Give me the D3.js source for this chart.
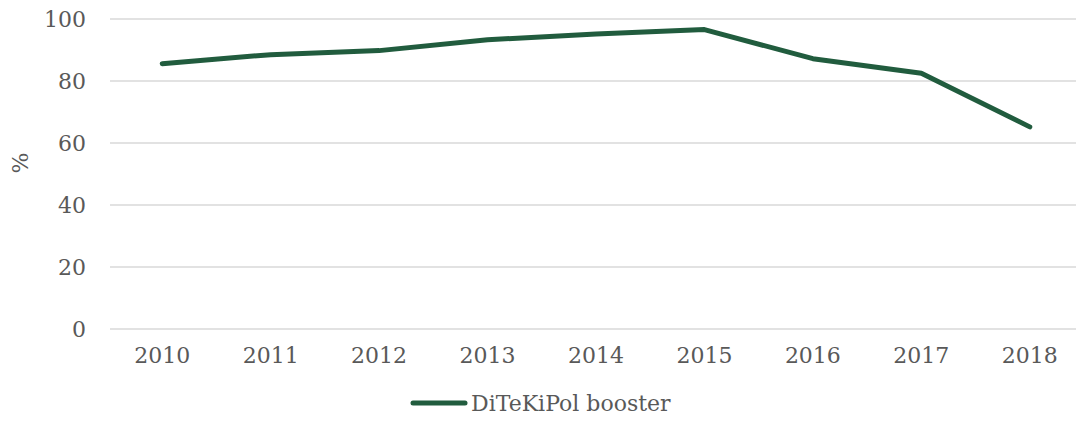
<!DOCTYPE html>
<html>
<head>
<meta charset="utf-8">
<script src="https://cdn.jsdelivr.net/npm/d3@7"></script>
<style>
  body { margin: 0; background: #fff; }
  text { font-family: "DejaVu Serif", serif; fill: #595959; }
</style>
</head>
<body>
<div id="chart"></div>
<script>
const years = ["2010", "2011", "2012", "2013", "2014", "2015", "2016", "2017", "2018"];
const booster = [85.6, 88.5, 89.8, 93.3, 95.2, 96.6, 87.2, 82.5, 65.2];
const yTicks = [0, 20, 40, 60, 80, 100];
const seriesName = "DiTeKiPol booster";

const width = 1076, height = 430;
const color = "#215c3e";

const svg = d3.select("#chart").append("svg")
  .attr("width", width)
  .attr("height", height);

const x = d3.scaleBand().domain(years).range([108, 1084]);
const y = d3.scaleLinear().domain([0, 100]).range([329, 19]);

// gridlines
svg.append("g")
  .selectAll("line")
  .data(yTicks)
  .join("line")
  .attr("x1", 110)
  .attr("x2", width)
  .attr("y1", d => y(d))
  .attr("y2", d => y(d))
  .attr("stroke", "#d9d9d9")
  .attr("stroke-width", 1.5);

// y labels
svg.append("g")
  .selectAll("text")
  .data(yTicks)
  .join("text")
  .attr("x", 86)
  .attr("y", d => y(d))
  .attr("dy", "0.35em")
  .attr("text-anchor", "end")
  .style("font-size", "22px")
  .text(d => d);

// x labels
svg.append("g")
  .selectAll("text")
  .data(years)
  .join("text")
  .attr("x", d => x(d) + x.bandwidth() / 2)
  .attr("y", 363)
  .attr("text-anchor", "middle")
  .style("font-size", "22px")
  .text(d => d);

// y title
svg.append("text")
  .attr("transform", "translate(28,163) rotate(-90)")
  .attr("text-anchor", "middle")
  .style("font-size", "22px")
  .text("%");

const line = d3.line()
  .x((d, i) => x(years[i]) + x.bandwidth() / 2)
  .y(d => y(d));

svg.append("path")
  .datum(booster)
  .attr("d", line)
  .attr("fill", "none")
  .attr("stroke", color)
  .attr("stroke-width", 5)
  .attr("stroke-linecap", "round")
  .attr("stroke-linejoin", "round");

// legend
const lg = svg.append("g").attr("transform", "translate(413,403)");
lg.append("line")
  .attr("x1", 0).attr("x2", 52)
  .attr("stroke", color)
  .attr("stroke-width", 5)
  .attr("stroke-linecap", "round");
lg.append("text")
  .attr("x", 58)
  .attr("dy", "0.35em")
  .style("font-size", "22px")
  .text(seriesName);
</script>
</body>
</html>
